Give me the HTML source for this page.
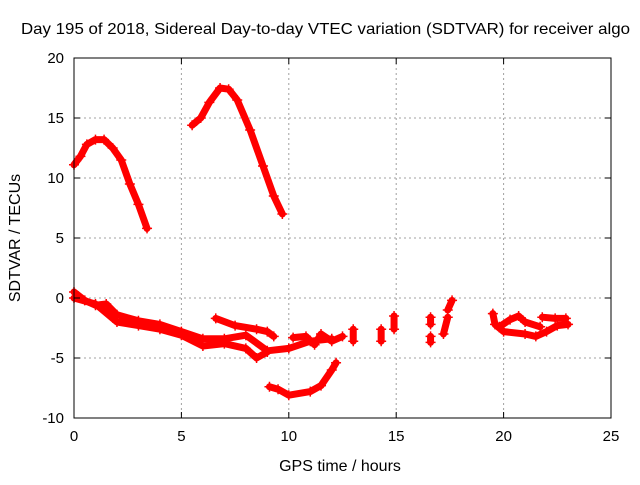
<!DOCTYPE html>
<html><head><meta charset="utf-8"><style>
body{margin:0;background:#fff;width:640px;height:480px;overflow:hidden}
text{font-family:"Liberation Sans",sans-serif;font-size:15px;fill:#000}
</style></head><body>
<svg id="chart" width="640" height="480" xmlns="http://www.w3.org/2000/svg">
<rect width="640" height="480" fill="#fff"/>
<text x="21" y="34" textLength="609" lengthAdjust="spacingAndGlyphs" style="font-size:16px">Day 195 of 2018, Sidereal Day-to-day VTEC variation (SDTVAR) for receiver algo</text>
<text x="340" y="471" text-anchor="middle" style="font-size:16px">GPS time / hours</text>
<text transform="translate(20,238) rotate(-90)" text-anchor="middle" style="font-size:16px">SDTVAR / TECUs</text>
<g id="grid"></g><g id="series"></g><g id="axes"></g>
</svg>
<script>
const xTicks=[0,5,10,15,20,25];
const yTicks=[-10,-5,0,5,10,15,20];
const seg1=[[0,11.1],[0.3,11.8],[0.6,12.8],[1,13.2],[1.4,13.2],[1.8,12.5],[2.2,11.5],[2.6,9.5],[3,7.8],[3.4,5.8]];
const seg2=[[5.5,14.4],[5.9,15],[6.3,16.3],[6.8,17.5],[7.2,17.4],[7.6,16.5],[8.2,14],[8.8,11],[9.3,8.5],[9.7,7]];
const band1=[[0,0.5],[0.5,-0.2],[1,-0.6],[1.5,-0.5],[2,-1.4],[3,-1.9],[4,-2.2],[5,-2.8],[6,-3.4],[7,-3.4],[8,-3.1],[9,-4.4],[10,-4.2],[11,-3.6],[12,-3.4]];
const band2=[[0,0],[1,-0.5],[2,-2],[3,-2.3],[4,-2.6],[5,-3.1],[6,-4],[7,-3.8],[8,-4.2],[8.5,-5],[9,-4.5]];
const branch=[[6.6,-1.7],[7.5,-2.3],[8.5,-2.6],[9,-2.8],[9.3,-3.2]];
const dip=[[9.1,-7.4],[9.5,-7.6],[10,-8.1],[11,-7.8],[11.5,-7.3],[12,-6],[12.2,-5.4]];
const cl1=[[10.2,-3.3],[10.8,-3.2],[11.2,-3.9],[11.5,-3],[12,-3.6],[12.5,-3.2]];
const cl2=[[13,-2.6],[13,-3.6]];
const cl3=[[14.3,-2.6],[14.3,-3.6]];
const cl4=[[14.9,-1.5],[14.9,-2.6]];
const cl5=[[16.6,-1.6],[16.6,-2.2]];
const cl6=[[16.6,-3.2],[16.6,-3.7]];
const cl7=[[17.2,-3],[17.4,-1.6]];
const cl8=[[17.4,-1],[17.6,-0.2]];
const loopA=[[19.5,-1.3],[19.6,-2.2],[20,-2.8],[21,-3],[21.5,-3.2],[22,-2.8],[22.5,-2.3],[23,-2.2]];
const loopB=[[19.8,-2.4],[20.3,-1.8],[20.7,-1.5],[21,-2],[21.7,-2.4]];
const loopC=[[21.8,-1.6],[22.4,-1.7],[22.9,-1.7]];
const allSeries=[seg1,seg2,band1,band2,branch,dip,cl1,cl2,cl3,cl4,cl5,cl6,cl7,cl8,loopA,loopB,loopC];
const X0=74,X1=611,Y0=418,Y1=58;
const xs=h=>X0+(h-0)/25*(X1-X0);
const ys=v=>Y0-(v+10)/30*(Y0-Y1);
const NS="http://www.w3.org/2000/svg";
function mk(t,a,p){const e=document.createElementNS(NS,t);for(const k in a)e.setAttribute(k,a[k]);p.appendChild(e);return e;}
const grid=document.getElementById('grid'),axes=document.getElementById('axes'),ser=document.getElementById('series');
xTicks.forEach(t=>{
 if(t>0&&t<25){const g=mk('line',{x1:xs(t),x2:xs(t),y1:Y1,y2:Y0,stroke:'#a0a0a0','stroke-dasharray':'2,3'},grid);
 
 }
 const l=mk('text',{x:xs(t),y:Y0+23,'text-anchor':'middle'},axes);l.textContent=t;
 
 
 mk('line',{x1:xs(t),x2:xs(t),y1:Y0,y2:Y0-6,stroke:'#000'},axes);
 mk('line',{x1:xs(t),x2:xs(t),y1:Y1,y2:Y1+6,stroke:'#000'},axes);
});
yTicks.forEach(t=>{
 if(t>-10&&t<20){const g=mk('line',{x1:X0,x2:X1,y1:ys(t),y2:ys(t),stroke:'#a0a0a0','stroke-dasharray':'2,3'},grid);
 
 }
 const l=mk('text',{x:X0-10,y:ys(t)+5,'text-anchor':'end'},axes);l.textContent=t;
 
 
 mk('line',{x1:X0,x2:X0+6,y1:ys(t),y2:ys(t),stroke:'#000'},axes);
 mk('line',{x1:X1,x2:X1-6,y1:ys(t),y2:ys(t),stroke:'#000'},axes);
});
const fr=mk('rect',{x:X0,y:Y1,width:X1-X0,height:Y0-Y1,fill:'none',stroke:'#000'},axes);


allSeries.forEach((s,i)=>{
 const p=mk('polyline',{points:s.map(d=>xs(d[0])+','+ys(d[1])).join(' '),fill:'none',stroke:'#f00','stroke-width':7,'stroke-linejoin':'round','stroke-linecap':'round'},ser);
 
 
 s.forEach(d=>{const m=mk('path',{d:`M${xs(d[0])-5},${ys(d[1])}h10M${xs(d[0])},${ys(d[1])-5}v10`,stroke:'#f00','stroke-width':1.5},ser);
  
  });
});
</script>
</body></html>
